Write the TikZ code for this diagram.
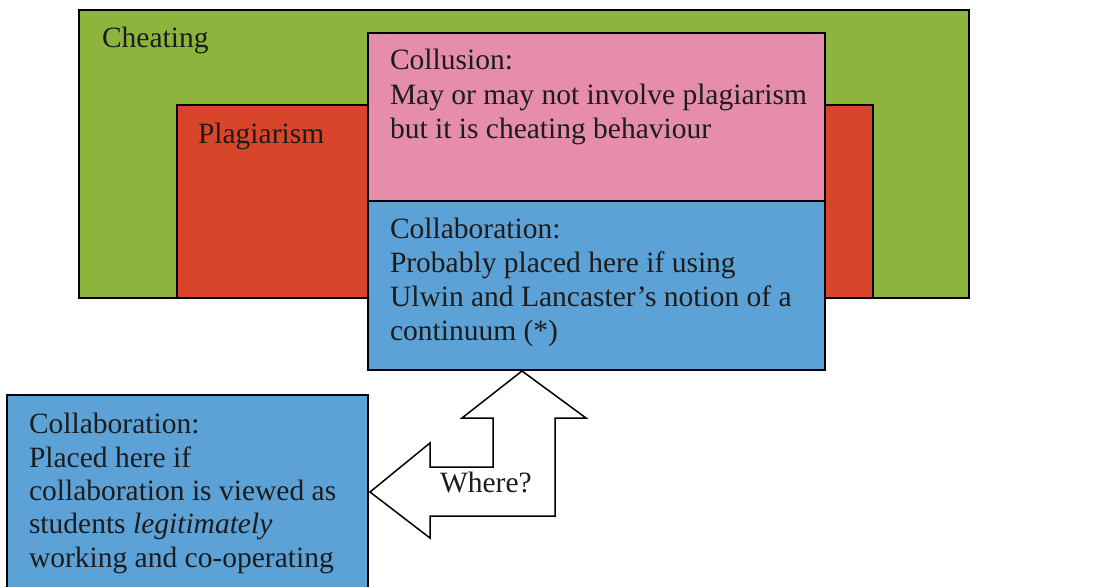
\documentclass[tikz,border=0pt]{standalone}
\usepackage{fontspec}
\setmainfont{Liberation Serif}
\definecolor{cheatgreen}{HTML}{8DB53E}
\definecolor{plagred}{HTML}{D8452B}
\definecolor{collpink}{HTML}{E58DAA}
\definecolor{collblue}{HTML}{5DA2D6}
\definecolor{inkdark}{HTML}{1C1C1C}
\begin{document}
\begin{tikzpicture}[x=1pt,y=-1pt,
  region/.style={draw=black, line width=1.5pt, inner sep=0pt, outer sep=0pt, anchor=north west},
  lbl/.style={anchor=base west, inner sep=0pt, outer sep=0pt, text=inkdark,
              font=\fontsize{29.5}{34}\selectfont},
  bentarrow/.style={draw=black, line width=1.5pt, fill=white, line join=miter}]
\useasboundingbox[fill=white] (0,0) rectangle (1102,586);

% nested regions
\node[region, fill=cheatgreen, minimum width=890pt, minimum height=288pt] (cheating) at (79,10) {};
\node[region, fill=plagred, minimum width=696pt, minimum height=193pt] (plagiarism) at (177,105) {};
\node[region, fill=collpink, minimum width=457pt, minimum height=168pt] (collusion) at (368,33) {};
\node[region, fill=collblue, minimum width=457pt, minimum height=169pt] (collabin) at (368,201) {};
\node[region, fill=collblue, minimum width=361pt, minimum height=220pt] (collabout) at (7,395) {};

% labels
\node[lbl] (tcheat) at (102,48) {Cheating};
\node[lbl] (tplag) at (198,143) {Plagiarism};

\node[lbl] (tcol1) at (390,70) {Collusion:};
\node[lbl] (tcol2) at (390,104) {May or may not involve plagiarism};
\node[lbl] (tcol3) at (390,138) {but it is cheating behaviour};

\node[lbl] (tin1) at (390,238) {Collaboration:};
\node[lbl] (tin2) at (390,272) {Probably placed here if using};
\node[lbl] (tin3) at (390,306) {Ulwin and Lancaster’s notion of a};
\node[lbl] (tin4) at (390,340) {continuum (*)};

\node[lbl] (tout1) at (29,433) {Collaboration:};
\node[lbl] (tout2) at (29,467) {Placed here if};
\node[lbl] (tout3) at (29,500) {collaboration is viewed as};
\node[lbl] (tout4) at (29,533) {students \textit{legitimately}};
\node[lbl] (tout5) at (29,567) {working and co-operating};

% two-headed bent arrow between the two collaboration boxes
\coordinate (uptip) at (522,371);
\coordinate (lefttip) at (370,492);
\draw[bentarrow] (uptip) -- (586,418) -- (555,418) -- (555,516) -- (430,516)
  -- (430,538) -- (lefttip) -- (430,443) -- (430,467) -- (493,467)
  -- (493,418) -- (462,418) -- cycle;
\node[lbl] (twhere) at (440,492) {Where?};
\end{tikzpicture}
\end{document}
